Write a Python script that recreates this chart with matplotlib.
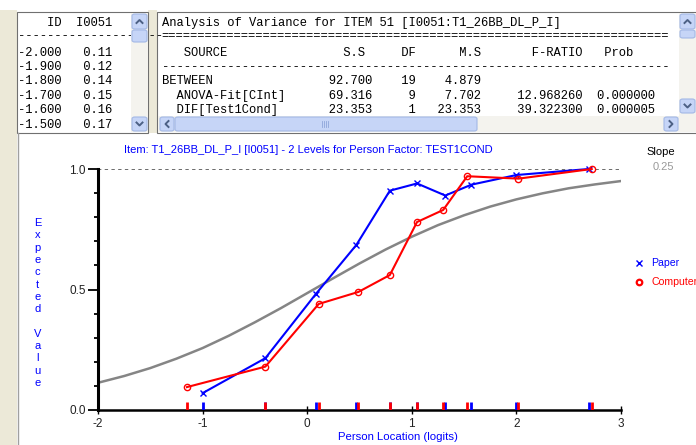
import matplotlib
matplotlib.use('Agg')
import matplotlib.pyplot as plt
from matplotlib.patches import Rectangle, FancyBboxPatch
from matplotlib.lines import Line2D

W, H = 696, 445

# ── data ──────────────────────────────────────────────
grid_locs = [-2.0, -1.9, -1.8, -1.7, -1.6, -1.5]
grid_vals = [0.11, 0.12, 0.14, 0.15, 0.16, 0.17]

anova_source = ["BETWEEN", "  ANOVA-Fit[CInt]", "  DIF[Test1Cond]"]
anova_ss = [92.700, 69.316, 23.353]
anova_df = [19, 9, 1]
anova_ms = [4.879, 7.702, 23.353]
anova_f = [None, 12.968260, 39.322300]
anova_p = [None, 0.000000, 0.000005]

icc_x = [-2.0, -1.75, -1.5, -1.25, -1.0, -0.75, -0.5, -0.25, 0.0, 0.25, 0.5,
         0.75, 1.0, 1.25, 1.5, 1.75, 2.0, 2.25, 2.5, 2.75, 3.0]
icc_y = [0.113, 0.141, 0.174, 0.213, 0.257, 0.308, 0.364, 0.423, 0.485, 0.547,
         0.608, 0.666, 0.719, 0.767, 0.808, 0.844, 0.874, 0.899, 0.920, 0.936, 0.950]

paper_x = [-1.00, -0.40, 0.08, 0.47, 0.79, 1.05, 1.32, 1.57, 2.00, 2.69]
paper_y = [0.07, 0.215, 0.48, 0.685, 0.91, 0.94, 0.89, 0.935, 0.975, 1.00]
computer_x = [-1.15, -0.40, 0.11, 0.49, 0.79, 1.05, 1.30, 1.53, 2.02, 2.72]
computer_y = [0.095, 0.18, 0.44, 0.49, 0.56, 0.78, 0.83, 0.97, 0.96, 1.00]

MONO = 'Liberation Mono'
SANS = 'Liberation Sans'
BEIGE = '#ECE9D8'
BTN = '#C6D5F7'
BTN_EDGE = '#A3B8E6'
ARROW = '#4D6185'


def fx(x):
    return x / W


def fy(y):
    return 1 - y / H


fig = plt.figure(figsize=(W / 100, H / 100), dpi=100)
fig.patch.set_facecolor('white')


def rect(x0, y0, x1, y1, fc, ec='none', lw=0.0, z=1):
    fig.add_artist(Rectangle((fx(x0), fy(y1)), (x1 - x0) / W, (y1 - y0) / H,
                             transform=fig.transFigure, facecolor=fc,
                             edgecolor=ec, linewidth=lw, zorder=z))


def button(x0, y0, x1, y1, z=11):
    fig.add_artist(FancyBboxPatch((fx(x0), fy(y1)), (x1 - x0) / W, (y1 - y0) / H,
                                  boxstyle='round,pad=0,rounding_size=0.004',
                                  transform=fig.transFigure, facecolor=BTN,
                                  edgecolor=BTN_EDGE, linewidth=0.8, zorder=z))


def chevron(cx, cy, d):
    s = 3
    pts = {'up': [(-s, 1.5), (0, -1.5), (s, 1.5)],
           'down': [(-s, -1.5), (0, 1.5), (s, -1.5)],
           'left': [(1.5, -s), (-1.5, 0), (1.5, s)],
           'right': [(-1.5, -s), (1.5, 0), (-1.5, s)]}[d]
    fig.add_artist(Line2D([fx(cx + p[0]) for p in pts], [fy(cy + p[1]) for p in pts],
                          transform=fig.transFigure, color=ARROW, lw=1.4, zorder=12))


# ── window background ────────────────────────────────
rect(0, 10, 17, 445, BEIGE, z=0)
rect(148, 10, 157, 133, BEIGE, z=0)
rect(17, 12, 148, 133, 'white', ec='#707070', lw=0.8, z=0.5)
rect(157, 12, 697, 133, 'white', ec='#707070', lw=0.8, z=0.5)
fig.add_artist(Line2D([fx(17.5), fx(17.5)], [fy(133), fy(445)],
                      transform=fig.transFigure, color='#A0A0A0', lw=1, zorder=1))

# ── left text panel ──────────────────────────────────
baselines = [26, 39, 55.5, 70, 84.5, 99, 113.5, 128]
left_lines = ["    ID  I0051", "-" * 20]
left_lines += [f"{loc:6.3f}   {val:4.2f}" for loc, val in zip(grid_locs, grid_vals)]
for ln, yb in zip(left_lines, baselines):
    fig.text(fx(18.5), fy(yb), ln, family=MONO, fontsize=8.7, va='baseline',
             ha='left', color='black', zorder=3)

rect(131, 13, 147.5, 132, '#F4F3EE', z=10)
button(132, 14, 147, 29)
chevron(139.5, 21.5, 'up')
button(132, 30, 147, 42)
button(132, 117, 147, 131)
chevron(139.5, 124, 'down')

# ── right text panel (ANOVA) ─────────────────────────
right_lines = ["Analysis of Variance for ITEM 51 [I0051:T1_26BB_DL_P_I]", "=" * 70,
               "   SOURCE".ljust(23) + "S.S".rjust(5) + "DF".rjust(7) + "M.S".rjust(9)
               + "F-RATIO".rjust(14) + "Prob".rjust(7),
               "-" * 70]
for src, ss, df, ms, f, p in zip(anova_source, anova_ss, anova_df, anova_ms,
                                 anova_f, anova_p):
    ln = src.ljust(23) + f"{ss:6.3f}" + f"{df:6d}" + f"{ms:9.3f}"
    if f is not None:
        ln += f"{f:14.6f}" + f"{p:10.6f}"
    right_lines.append(ln)
for ln, yb in zip(right_lines, baselines):
    fig.text(fx(161.7), fy(yb), ln, family=MONO, fontsize=8.7, va='baseline',
             ha='left', color='black', zorder=3)

rect(679, 13, 696, 132, '#F4F3EE', z=10)
rect(158, 116, 679, 132, '#F4F3EE', z=10)
button(680, 14, 695, 29)
chevron(687.5, 21.5, 'up')
button(680, 30, 695, 38)
button(680, 99, 695, 113)
chevron(687.5, 106, 'down')
button(160, 117, 174, 131)
chevron(167, 124, 'left')
button(175, 117, 477, 131)
for k in range(4):
    fig.add_artist(Line2D([fx(322 + 2 * k)] * 2, [fy(121), fy(127)],
                          transform=fig.transFigure, color='#8FA6DA', lw=0.6, zorder=12))
button(664, 117, 678, 131)
chevron(671, 124, 'right')

# ── chart ────────────────────────────────────────────
ax = fig.add_axes([fx(98), fy(410), (621 - 98) / W, (410 - 169) / H])
ax.set_facecolor('none')
ax.set_xlim(-2, 3)
ax.set_ylim(0, 1)

ax.plot(icc_x, icc_y, color='#858585', lw=1.8, zorder=2)
ax.axhline(1.0, color='#444444', lw=1.1, ls=(0, (2.2, 2.2)), zorder=1)
ax.plot(paper_x, paper_y, color='blue', lw=1.5, marker='x', ms=4.5, mew=1.0,
        label='Paper', zorder=3, clip_on=False)
ax.plot(computer_x, computer_y, color='red', lw=1.5, marker='o', ms=4.5, mew=1.0,
        mfc='none', label='Computer', zorder=4, clip_on=False)
ax.vlines(paper_x, 0, 0.034, color='blue', lw=2.0, zorder=5)
ax.vlines(computer_x, 0, 0.034, color='red', lw=2.0, zorder=5)

for s in ('top', 'right'):
    ax.spines[s].set_visible(False)
ax.spines['left'].set_linewidth(2.2)
ax.spines['bottom'].set_linewidth(1.8)

ax.set_yticks([0.0, 0.5, 1.0])
ax.set_yticklabels(['0.0', '0.5', '1.0'])
ax.set_yticks([0.1, 0.2, 0.3, 0.4, 0.6, 0.7, 0.8, 0.9], minor=True)
ax.tick_params(axis='y', which='major', direction='out', length=7, width=1.3,
               pad=2, labelsize=8.5, labelcolor='#222222', labelfontfamily=SANS)
ax.tick_params(axis='y', which='minor', direction='out', length=3, width=1.3)
ax.set_xticks([-2, -1, 0, 1, 2, 3])
ax.set_xticklabels(['-2', '-1', '0', '1', '2', '3'])
ax.tick_params(axis='x', direction='inout', length=6, width=1, pad=3,
               labelsize=8.5, labelcolor='#222222', labelfontfamily=SANS)

fig.text(fx(308), fy(150),
         "Item: T1_26BB_DL_P_I [I0051] - 2 Levels for Person Factor: TEST1COND",
         color='blue', fontsize=8.0, family=SANS, ha='center', va='center')
fig.text(fx(398), fy(437), "Person Location (logits)", color='blue', fontsize=8.2,
         family=SANS, ha='center', va='center')
for i, ch in enumerate("Expected Value"):
    fig.text(fx(37.5), fy(223 + 12.3 * i), ch, color='blue', fontsize=8.0,
             family=SANS, ha='center', va='center')

fig.text(fx(661), fy(152), "Slope", color='black', fontsize=8.0, family=SANS,
         ha='center', va='center')
fig.text(fx(663), fy(167), "0.25", color='#999999', fontsize=8.0, family=SANS,
         ha='center', va='center')

handles = [Line2D([], [], color='blue', marker='x', ls='none', ms=4, mew=1),
           Line2D([], [], color='red', marker='o', ls='none', ms=4, mew=1.6, mfc='none')]
leg = fig.legend(handles, ['Paper', 'Computer'], loc='upper left',
                 bbox_to_anchor=(fx(628), fy(253)), frameon=False, borderpad=0,
                 handlelength=1.0, handletextpad=0.7, labelspacing=0.85,
                 prop={'family': SANS, 'size': 7.6})
leg.get_texts()[0].set_color('blue')
leg.get_texts()[1].set_color('red')

fig.savefig('out.png', dpi=100)
